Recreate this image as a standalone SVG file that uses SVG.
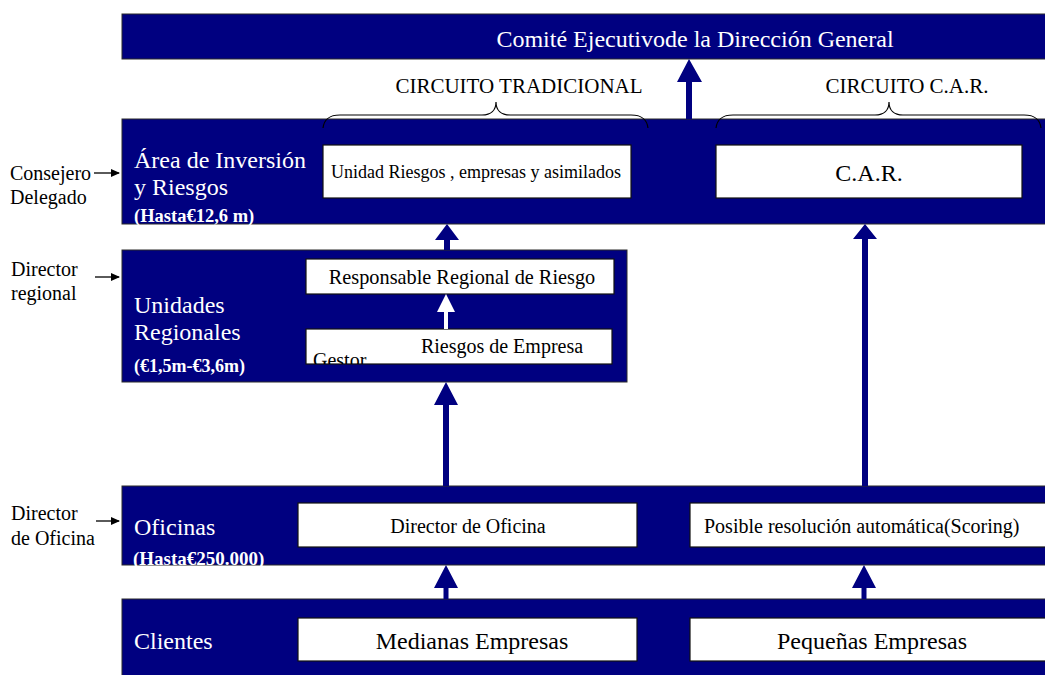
<svg xmlns="http://www.w3.org/2000/svg" width="1045" height="675" viewBox="0 0 1045 675">
<defs>
<style>
.band{fill:#000080;stroke:#2a2a2a;stroke-width:1}
.wbox{fill:#fff;stroke:#111;stroke-width:1.2}
.t{font-family:"Liberation Serif","Times New Roman",serif}
.w{fill:#fff}
.k{fill:#000}
.b{font-weight:bold}
.arr{fill:#000080}
.brace{fill:none;stroke:#000;stroke-width:1.2}
.side{stroke:#000;stroke-width:1.3;fill:none}
</style>
<marker id="sh" markerWidth="9" markerHeight="9" refX="8" refY="4.5" orient="auto" markerUnits="userSpaceOnUse">
<path d="M0,0.5 L9,4.5 L0,8.5 Z" fill="#000"/>
</marker>
<clipPath id="gclip"><rect x="306" y="329" width="306" height="35"/></clipPath>
</defs>
<rect width="1045" height="675" fill="#fff"/>

<g id="comite">
<rect class="band" x="122" y="14" width="930" height="45"/>
<text class="t w" x="695" y="47" font-size="24" text-anchor="middle">Comité Ejecutivode la Dirección General</text>
</g>

<g id="circuito-tradicional">
<text class="t k" x="519" y="93" font-size="21" text-anchor="middle">CIRCUITO TRADICIONAL</text>
</g>
<g id="circuito-car">
<text class="t k" x="907" y="93" font-size="21" text-anchor="middle">CIRCUITO C.A.R.</text>
</g>

<g id="area">
<rect class="band" x="122" y="119" width="930" height="105"/>
<text class="t w" x="134" y="168" font-size="24">Área de Inversión</text>
<text class="t w" x="134" y="195" font-size="24">y Riesgos</text>
<text class="t w b" x="134" y="222" font-size="18.5">(Hasta€12,6 m)</text>
</g>
<g id="unidad-riesgos">
<rect class="wbox" x="323" y="145" width="308" height="53"/>
<text class="t k" x="476" y="178" font-size="18" text-anchor="middle">Unidad Riesgos , empresas y asimilados</text>
</g>
<g id="car">
<rect class="wbox" x="716" y="145" width="306" height="53"/>
<text class="t k" x="869" y="181" font-size="24" text-anchor="middle">C.A.R.</text>
</g>

<g id="unidades">
<rect class="band" x="122" y="250" width="505" height="132"/>
<text class="t w" x="134" y="313" font-size="24">Unidades</text>
<text class="t w" x="134" y="340" font-size="24">Regionales</text>
<text class="t w b" x="134" y="372" font-size="18">(€1,5m-€3,6m)</text>
</g>
<g id="responsable">
<rect class="wbox" x="306" y="259" width="308" height="35"/>
<text class="t k" x="462" y="284" font-size="20.3" text-anchor="middle">Responsable Regional de Riesgo</text>
</g>
<g id="gestor">
<rect class="wbox" x="306" y="329" width="306" height="35"/>
<text class="t k" x="502" y="353" font-size="20" text-anchor="middle">Riesgos de Empresa</text>
<text class="t k" x="313" y="367" font-size="20" clip-path="url(#gclip)">Gestor</text>
</g>

<g id="oficinas">
<rect class="band" x="122" y="486" width="930" height="79"/>
<text class="t w" x="134" y="535" font-size="24">Oficinas</text>
<text class="t w b" x="133" y="565" font-size="19">(Hasta€250.000)</text>
</g>
<g id="director-oficina">
<rect class="wbox" x="298" y="503" width="339" height="44"/>
<text class="t k" x="468" y="533" font-size="20" text-anchor="middle">Director de Oficina</text>
</g>
<g id="scoring">
<rect class="wbox" x="690" y="503" width="370" height="44"/>
<text class="t k" x="704" y="533" font-size="20">Posible resolución automática(Scoring)</text>
</g>

<g id="clientes">
<rect class="band" x="122" y="599" width="930" height="85"/>
<text class="t w" x="134" y="649" font-size="24">Clientes</text>
</g>
<g id="medianas">
<rect class="wbox" x="298" y="618" width="339" height="43"/>
<text class="t k" x="472" y="649" font-size="24" text-anchor="middle">Medianas Empresas</text>
</g>
<g id="pequenas">
<rect class="wbox" x="690" y="618" width="370" height="43"/>
<text class="t k" x="872" y="649" font-size="24" text-anchor="middle">Pequeñas Empresas</text>
</g>

<g id="side-labels">
<text class="t k" x="10" y="180" font-size="20">Consejero</text>
<text class="t k" x="10" y="204" font-size="20">Delegado</text>
<text class="t k" x="11" y="276" font-size="20">Director</text>
<text class="t k" x="11" y="300" font-size="20">regional</text>
<text class="t k" x="11" y="520" font-size="20">Director</text>
<text class="t k" x="11" y="545" font-size="20">de Oficina</text>
</g>

<g id="connectors">
<path class="brace" d="M323,128 C324,120 328,115 340,115 L482,115 C491,115 496,110 496,102 C496,110 501,115 510,115 L631,115 C643,115 647,120 648,128"/>
<path class="brace" d="M716,128 C717,120 721,115 733,115 L875,115 C884,115 889,110 889,102 C889,110 894,115 903,115 L1024,115 C1036,115 1040,120 1041,128"/>
<path class="arr" d="M689,59 L702,82 L692,82 L692,119 L686,119 L686,82 L677,82 Z"/>
<path class="arr" d="M447,224 L459,240 L450,240 L450,250 L444,250 L444,240 L435,240 Z"/>
<path class="arr" d="M865,224 L877,239 L868,239 L868,486 L862,486 L862,239 L853,239 Z"/>
<path class="arr" d="M446,382 L458,405 L449,405 L449,486 L443,486 L443,405 L434,405 Z"/>
<path class="arr" d="M446,565 L458,588 L448.5,588 L448.5,599 L443.5,599 L443.5,588 L434,588 Z"/>
<path class="arr" d="M864,565 L876,588 L866.5,588 L866.5,599 L861.5,599 L861.5,588 L852,588 Z"/>
<path d="M446,294 L455,312 L448,312 L448,329 L444,329 L444,312 L437,312 Z" fill="#fff"/>
<line class="side" x1="94" y1="173" x2="119" y2="173" marker-end="url(#sh)"/>
<line class="side" x1="95" y1="277" x2="119" y2="277" marker-end="url(#sh)"/>
<line class="side" x1="96" y1="521" x2="119" y2="521" marker-end="url(#sh)"/>
</g>
</svg>
